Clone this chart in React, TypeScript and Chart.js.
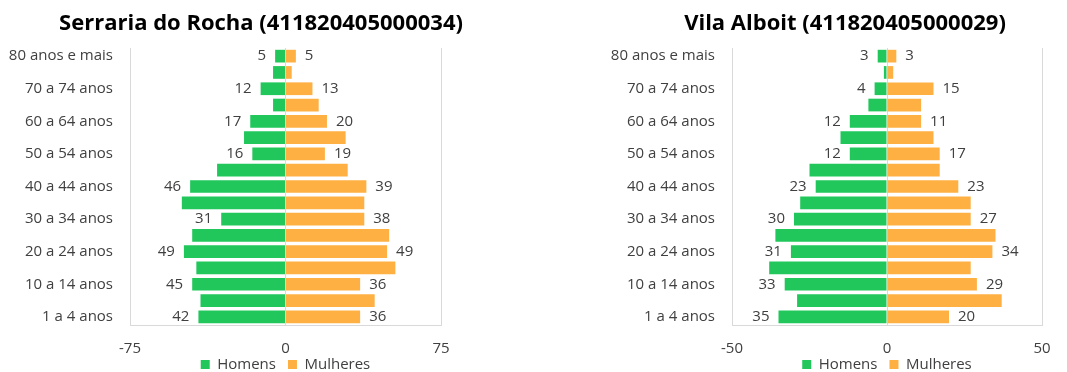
import { useEffect, useRef } from "react";
import { Chart, registerables } from "chart.js";

Chart.register(...registerables);

// Age groups, youngest first (drawn bottom to top)
const ageGroups = [
  "1 a 4 anos",
  "5 a 9 anos",
  "10 a 14 anos",
  "15 a 19 anos",
  "20 a 24 anos",
  "25 a 29 anos",
  "30 a 34 anos",
  "35 a 39 anos",
  "40 a 44 anos",
  "45 a 49 anos",
  "50 a 54 anos",
  "55 a 59 anos",
  "60 a 64 anos",
  "65 a 69 anos",
  "70 a 74 anos",
  "75 a 79 anos",
  "80 anos e mais",
];

const serrariaHomens = [42, 41, 45, 43, 49, 45, 31, 50, 46, 33, 16, 20, 17, 6, 12, 6, 5];
const serrariaMulheres = [36, 43, 36, 53, 49, 50, 38, 38, 39, 30, 19, 29, 20, 16, 13, 3, 5];
const serrariaTicks = [-75, 0, 75];

const vilaHomens = [35, 29, 33, 38, 31, 36, 30, 28, 23, 25, 12, 15, 12, 6, 4, 1, 3];
const vilaMulheres = [20, 37, 29, 27, 34, 35, 27, 27, 23, 17, 17, 15, 11, 11, 15, 2, 3];
const vilaTicks = [-50, 0, 50];

const GREEN = "#21C75B";
const ORANGE = "#FFB042";
const TEXT = "#404040";
const FONT = "'Open Sans', 'Noto Sans', sans-serif";

// Writes the count next to the end of every other bar
const valueLabels = {
  id: "valueLabels",
  afterDatasetsDraw(chart: any) {
    const { ctx } = chart;
    ctx.save();
    ctx.font = `15px ${FONT}`;
    ctx.fillStyle = TEXT;
    ctx.textBaseline = "middle";
    chart.data.datasets.forEach((ds: any, di: number) => {
      const meta = chart.getDatasetMeta(di);
      meta.data.forEach((el: any, i: number) => {
        if (i % 2 !== 0) return;
        const v = ds.data[i];
        const neg = v < 0;
        ctx.textAlign = neg ? "right" : "left";
        ctx.fillText(String(Math.abs(v)), el.x + (neg ? -9 : 9), el.y);
      });
    });
    ctx.restore();
  },
};

// Pulls the legend row up so it sits just under the axis numbers
const legendLift = {
  id: "legendLift",
  beforeDraw(chart: any) {
    const lg = chart.legend;
    if (!lg || lg._lifted) return;
    lg.top -= 11;
    lg.bottom -= 11;
    lg._lifted = true;
  },
};

type PyramidProps = {
  title: string;
  men: number[];
  women: number[];
  ticks: number[];
  left: number;
  width: number;
  axisWidth: number;
  rightGap: number;
};

function Pyramid({ title, men, women, ticks, left, width, axisWidth, rightGap }: PyramidProps) {
  const ref = useRef<HTMLCanvasElement | null>(null);
  const height = 393;

  useEffect(() => {
    if (!ref.current) return;
    const limit = ticks[ticks.length - 1];
    const chart = new Chart(ref.current, {
      type: "bar",
      data: {
        labels: ageGroups,
        datasets: [
          { label: "Homens", data: men.map((v) => -v), backgroundColor: GREEN, borderWidth: 0 },
          { label: "Mulheres", data: women, backgroundColor: ORANGE, borderWidth: 0 },
        ],
      },
      options: {
        indexAxis: "y",
        animation: false,
        responsive: false,
        maintainAspectRatio: false,
        datasets: { bar: { barPercentage: 0.78, categoryPercentage: 1 } },
        layout: { padding: 0 },
        scales: {
          x: {
            type: "linear",
            stacked: true,
            min: ticks[0],
            max: limit,
            ticks: { stepSize: limit, font: { family: FONT, size: 15 }, color: TEXT, padding: 15 },
            grid: { color: "#d9d9d9", drawTicks: false },
            border: { color: "#d9d9d9" },
            afterFit: (s: any) => {
              s.height = 31;
            },
          },
          y: {
            type: "category",
            stacked: true,
            reverse: true,
            grid: { display: false, drawTicks: false },
            border: { display: false },
            ticks: {
              autoSkip: false,
              padding: 17,
              font: { family: FONT, size: 15 },
              color: TEXT,
              callback: (_v: any, i: number) => (i % 2 === 0 ? ageGroups[i] : ""),
            },
            afterFit: (s: any) => {
              s.width = axisWidth;
            },
          },
          gap: {
            type: "linear",
            position: "right",
            display: true,
            grid: { display: false, drawTicks: false },
            border: { display: false },
            ticks: { display: false },
            afterFit: (s: any) => {
              s.width = rightGap;
            },
          },
        },
        plugins: {
          title: {
            display: true,
            text: title,
            color: "#000000",
            font: { family: FONT, size: 22, weight: "bold" },
            padding: { top: 11, bottom: 10.6 },
          },
          legend: {
            display: true,
            position: "bottom",
            fullSize: false,
            labels: {
              boxWidth: 9,
              boxHeight: 9,
              padding: 12,
              color: TEXT,
              font: { family: FONT, size: 15 },
            },
          },
          tooltip: { enabled: false },
        },
      },
      plugins: [valueLabels, legendLift],
    } as any);
    return () => chart.destroy();
  }, []);

  return (
    <canvas
      ref={ref}
      width={width}
      height={height}
      style={{ position: "absolute", left, top: 0, width, height }}
    />
  );
}

export default function App() {
  return (
    <div
      style={{
        position: "fixed",
        left: 0,
        top: 0,
        width: 1067,
        height: 372,
        overflow: "hidden",
        background: "#ffffff",
      }}
    >
      <Pyramid
        title="Serraria do Rocha (411820405000034)"
        men={serrariaHomens}
        women={serrariaMulheres}
        ticks={serrariaTicks}
        left={0}
        width={522}
        axisWidth={130}
        rightGap={81}
      />
      <Pyramid
        title="Vila Alboit (411820405000029)"
        men={vilaHomens}
        women={vilaMulheres}
        ticks={vilaTicks}
        left={600}
        width={490}
        axisWidth={132}
        rightGap={48}
      />
    </div>
  );
}
